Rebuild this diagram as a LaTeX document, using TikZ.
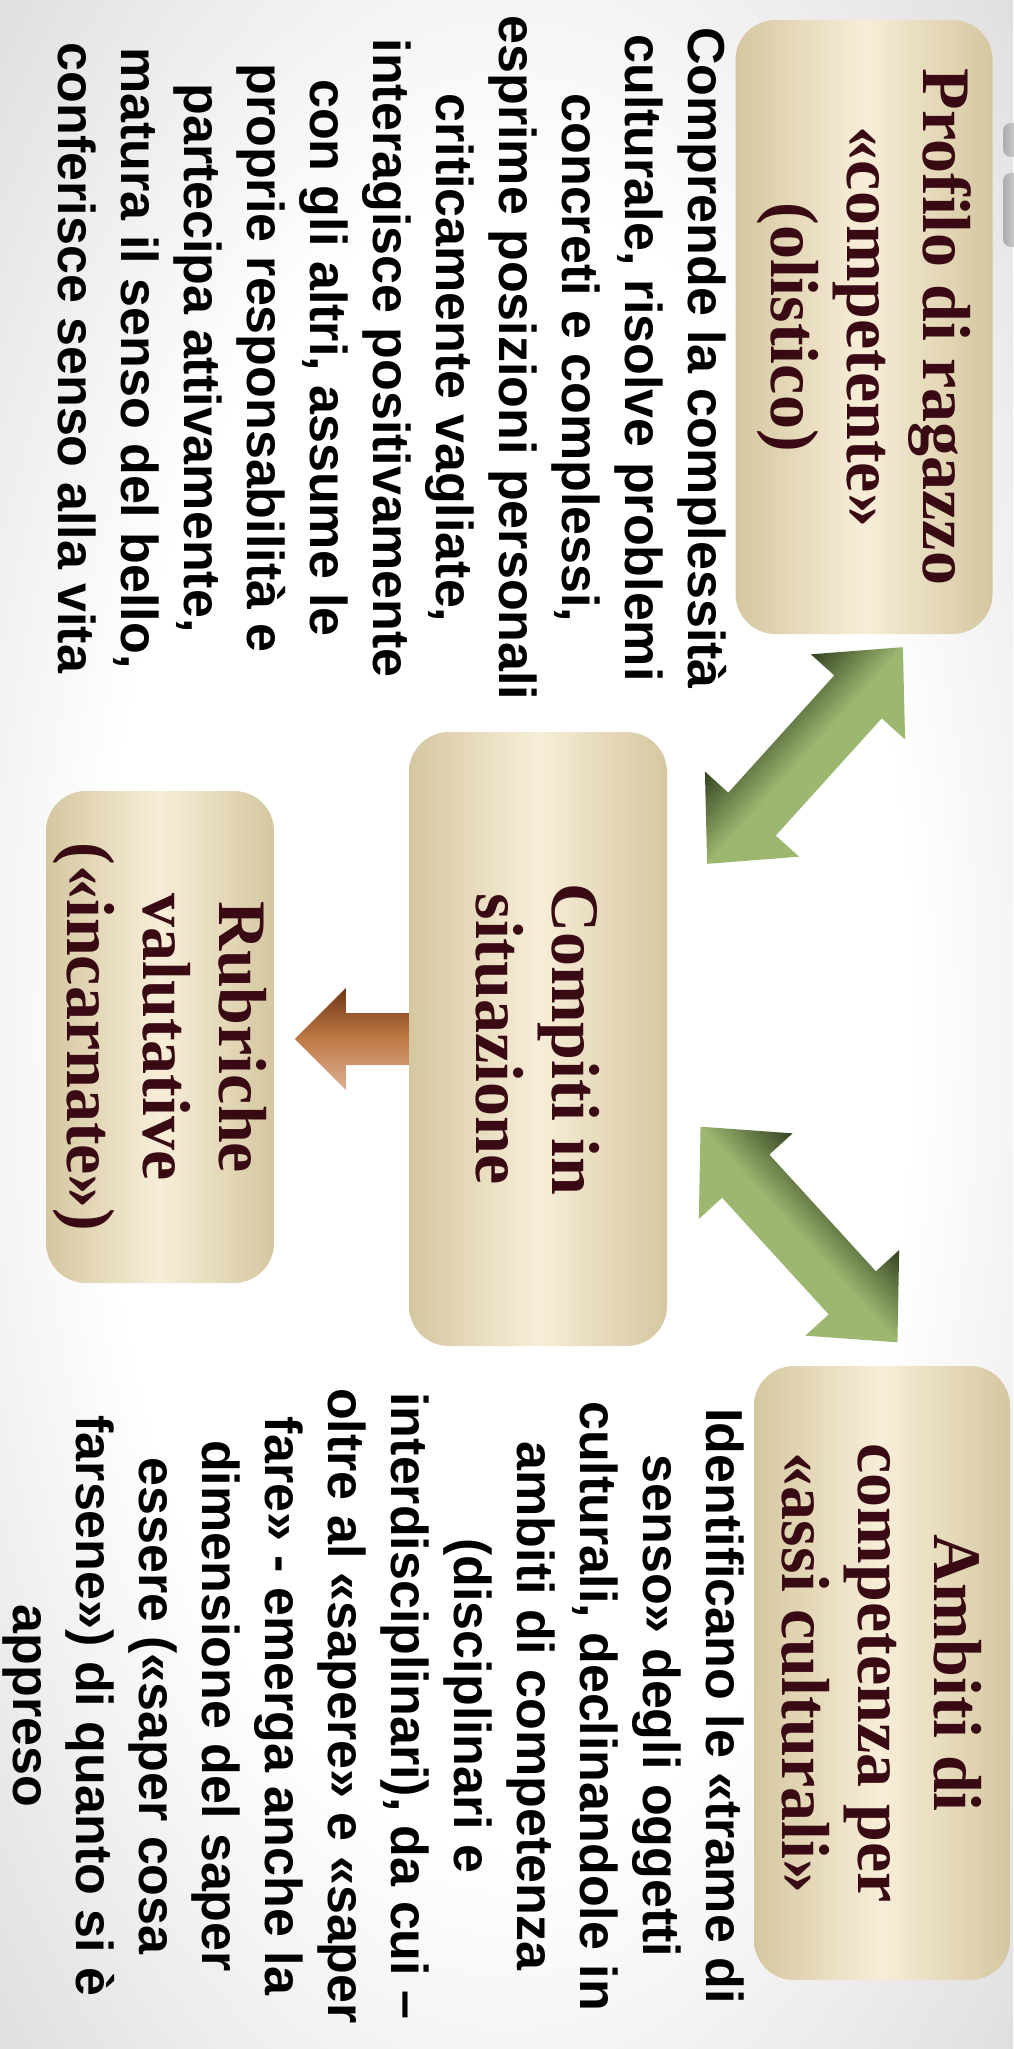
\documentclass[tikz,border=0pt]{standalone}
\usepackage{fontspec}
\setmainfont{Liberation Sans}
\newfontfamily\titlefont{Liberation Serif}
\usepackage{tikz}
\usetikzlibrary{positioning,calc}
\definecolor{boxedge}{HTML}{D4C7A0}
\definecolor{boxmid}{HTML}{F8EED8}
\definecolor{titlered}{HTML}{3A0A14}
\definecolor{leafdark}{HTML}{33421F}
\definecolor{leaflight}{HTML}{9CB770}
\definecolor{rustdark}{HTML}{6F3616}
\definecolor{rustmid}{HTML}{BF7A45}
\definecolor{rustlight}{HTML}{DDB096}
\pgfdeclareradialshading{slidebg}{\pgfpoint{0bp}{0bp}}{color(0bp)=(white); color(20bp)=(white); color(36bp)=(black!13); color(50bp)=(black!13)}
\tikzset{
  box/.style = {rounded corners=40pt, rotate=-90, inner sep=0pt, align=center,
   left color=boxedge, right color=boxedge, middle color=boxmid, text=titlered,
   font=\titlefont\bfseries\fontsize{68}{76}\selectfont},
  txt/.style = {rotate=-90, inner sep=0pt, align=center,
   font=\bfseries\fontsize{52}{63}\selectfont},
  leaf/.style = {top color=leafdark, bottom color=leaflight, middle color=leaflight},
  rust/.style = {top color=rustdark, bottom color=rustlight, middle color=rustmid},
}

\begin{document}
\begin{tikzpicture}[x=1pt, y=-1pt]
  \useasboundingbox (0,0) rectangle (1013,2049);
  \shade[shading=slidebg] (0,0) rectangle (1013,2049);
  \shade[left color=gray!65, right color=gray!10, rounded corners=8pt] (1003,123) rectangle (1030,157);
  \shade[left color=gray!65, right color=gray!10, rounded corners=8pt] (1003,173) rectangle (1030,247);

  \node (prof) [box, minimum width=614pt, minimum height=257pt] at (864,327)
    {Profilo di ragazzo\\«competente»\\(olistico)};
  \node (cmp) [box, minimum width=614pt, minimum height=258pt] at (538,1039)
    {Compiti in\\situazione};
  \node (rub) [box, minimum width=492pt, minimum height=228pt] at (160,1037)
    {Rubriche\\valutative\\(«incarnate»)};
  \node (amb) [box, minimum width=614pt, minimum height=256pt] at (882,1673)
    {Ambiti di\\competenza per\\«assi culturali»};

  \node (proftxt) [txt] at (392,358)
    {Comprende la complessità\\culturale, risolve problemi\\concreti e complessi,\\esprime posizioni personali\\criticamente vagliate,\\interagisce positivamente\\con gli altri, assume le\\proprie responsabilità e\\partecipa attivamente,\\matura il senso del bello,\\conferisce senso alla vita};
  \node (ambtxt) [txt] at (373,1706)
    {Identificano le «trame di\\senso» degli oggetti\\culturali, declinandole in\\ambiti di competenza\\(disciplinari e\\interdisciplinari), da cui –\\oltre al «sapere» e «saper\\fare» - emerga anche la\\dimensione del saper\\essere («saper cosa\\farsene») di quanto si è\\appreso};

  \begin{scope}[transform canvas={shift={(805,755.5)}, rotate=47.9}]
    \shade[leaf] (146,0) -- (79,63.5) -- (79,32) -- (-79,32) -- (-79,63.5) -- (-146,0)
      -- (-79,-63.5) -- (-79,-32) -- (79,-32) -- (79,-63.5) -- cycle;
  \end{scope}
  \begin{scope}[transform canvas={shift={(799,1234.5)}, rotate=-47.6}]
    \shade[leaf] (146,0) -- (79,63.5) -- (79,32) -- (-79,32) -- (-79,63.5) -- (-146,0)
      -- (-79,-63.5) -- (-79,-32) -- (79,-32) -- (79,-63.5) -- cycle;
  \end{scope}
  \shade[rust] (cmp.south) ++(0,-26) -- ++(-63,0) -- ++(0,-25) -- ++(-51,51)
    -- ++(51,51) -- ++(0,-25) -- ++(63,0) -- cycle;
\end{tikzpicture}
\end{document}
